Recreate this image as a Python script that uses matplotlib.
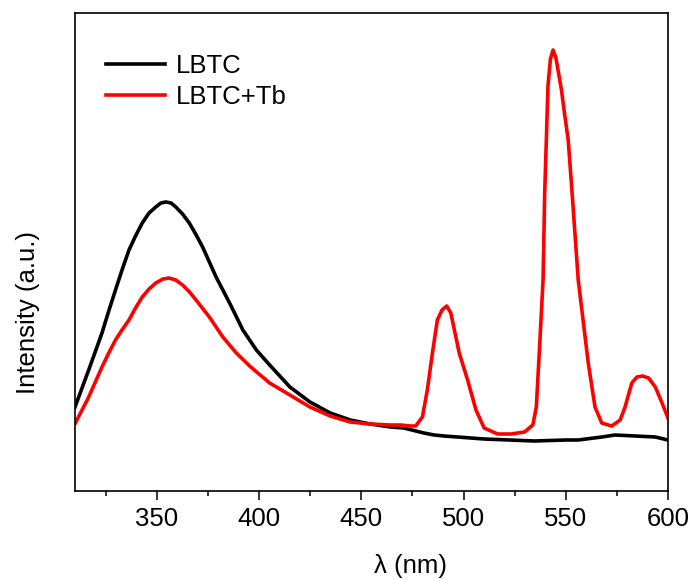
import matplotlib
matplotlib.use("Agg")
import matplotlib.pyplot as plt
from matplotlib.ticker import MultipleLocator

plt.rcParams['font.family'] = ['Liberation Sans', 'DejaVu Sans']

# LBTC emission (wavelength in nm, intensity in a.u.)
wl_lbtc = [310, 316.7, 323.2, 326.5, 329.8, 333, 336.4, 339.6, 342.9, 346.2,
           349.5, 352, 354.4, 357, 359.3, 362.6, 365.9, 369, 372.4, 379,
           385.6, 392.1, 398.7, 405.2, 415.1, 424.9, 434.8, 444.6, 454.4, 464.3,
           470.8, 480.6, 485.6, 490.5, 510.1, 534.7, 550, 556.1, 567.6, 574.1,
           584, 593.8, 600]
int_lbtc = [84, 121, 158, 180, 201, 221, 241, 255, 268, 278,
            284, 288, 289, 288, 284, 277, 268, 257, 244, 214,
            188, 161, 141, 126, 104, 89, 78, 71, 67, 64,
            63, 58, 56, 55, 52, 50, 51, 51, 54, 56,
            55, 54, 51]

# LBTC+Tb emission
wl_tb = [310.2, 316.7, 323.2, 326.5, 329.8, 333, 336.4, 339.6, 342.9, 346.2,
         349.5, 353, 356, 359.3, 362.6, 366, 369.2, 375.7, 382.3, 388.9,
         395.4, 405.2, 415.1, 424.9, 434.8, 444.6, 454.4, 464.3, 469.2, 474.1,
         476.6, 479.9, 482.3, 484.8, 487.2, 489.5, 491.8, 493.8, 497.9, 502,
         506.1, 510.1, 516.7, 523.3, 529.8, 533.9, 535.6, 537.2, 538.9, 539.7,
         540.5, 541.3, 542.5, 543.8, 545.2, 547.9, 549.5, 551.2, 553.1, 556.1,
         561, 564.3, 567.6, 572.5, 576.6, 579, 582.3, 584.8, 587.5, 590.5,
         593.8, 597.1, 600]
int_tb = [68, 94, 124, 138, 151, 161, 171, 183, 194, 202,
          208, 212, 213, 211, 206, 199, 191, 174, 154, 138,
          125, 108, 96, 84, 75, 69, 67, 66, 66, 65,
          65, 74, 101, 138, 171, 181, 185, 178, 138, 111,
          81, 63, 57, 57, 59, 66, 84, 144, 211, 298,
          351, 405, 432, 441, 433, 401, 376, 351, 298, 211,
          128, 84, 68, 65, 71, 84, 108, 114, 115, 113,
          104, 88, 73]

fig = plt.figure(figsize=(6.93, 5.80), dpi=100)
ax = fig.add_axes([75 / 693, 1 - 491 / 580, 593 / 693, 478 / 580])

ax.plot(wl_lbtc, int_lbtc, color='black', lw=2.6, label='LBTC')
ax.plot(wl_tb, int_tb, color='#ff0000', lw=2.6, label='LBTC+Tb')

ax.set_xlim(310, 600)
ax.set_ylim(0, 478)
ax.xaxis.set_major_locator(MultipleLocator(50))
ax.xaxis.set_minor_locator(MultipleLocator(25))
ax.set_yticks([])
ax.tick_params(axis='x', which='major', direction='out', length=6.5, width=1.1,
               labelsize=18.5, pad=5)
ax.tick_params(axis='x', which='minor', direction='out', length=3.8, width=1.1)
for sp in ax.spines.values():
    sp.set_linewidth(1.2)

fig.text(411 / 693, 1 - 566 / 580, '\u03bb (nm)', ha='center', va='center', fontsize=18.5)
fig.text(28 / 693, 1 - 312 / 580, 'Intensity (a.u.)', ha='center', va='center',
         rotation=90, fontsize=18.5)

ax.legend(loc='upper left', bbox_to_anchor=(0.035, 0.935), frameon=False,
          fontsize=18.5, handlelength=2.3, handletextpad=0.4, labelspacing=0.25,
          borderaxespad=0)

fig.savefig('out.png', dpi=100)
